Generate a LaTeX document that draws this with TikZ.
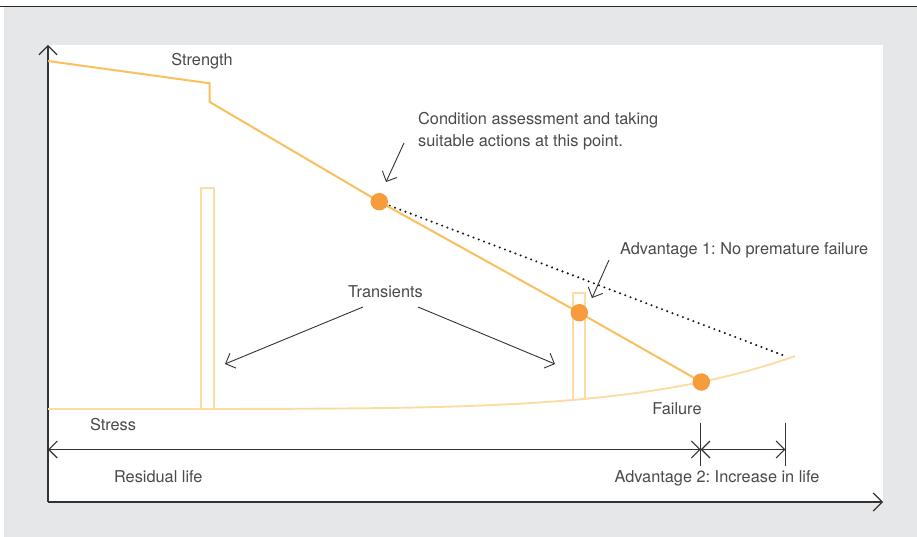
\documentclass[tikz,border=0pt]{standalone}
\usepackage{fontspec}
\setmainfont{TeX Gyre Heros}
\usetikzlibrary{arrows.meta}
\frenchspacing
\definecolor{bggrey}{HTML}{E6E7E8}
\definecolor{strengthc}{HTML}{FABF5E}
\definecolor{lightc}{HTML}{FDDBA4}
\definecolor{dotc}{HTML}{F69C3D}
\definecolor{textc}{HTML}{4A4A4A}
\definecolor{axisc}{HTML}{333333}
\tikzset{
  lbl/.style={inner sep=0pt, text=textc, font=\fontsize{16.3}{22}\selectfont},
  dotnode/.style={circle, fill=dotc, minimum size=17.5pt, inner sep=0pt},
  axisline/.style={draw=axisc, line width=1.2pt},
  annot/.style={draw=axisc, line width=0.9pt, -{Straight Barb[length=8pt, width=16pt]}},
  strengthline/.style={draw=strengthc, line width=2pt, line join=miter},
  lightline/.style={draw=lightc, line width=1.9pt},
  dotted line/.style={draw=black!90, line width=2.3pt, line cap=round, dash pattern=on 0pt off 5.6pt}
}
\begin{document}
\begin{tikzpicture}[x=1pt,y=-1pt]
\useasboundingbox (0,0) rectangle (917,537);
% background panels
\fill[bggrey] (4,7) rectangle (917,537);
\fill[white] (48,45) rectangle (883,502);
\draw[black!85, line width=1.3pt] (0,6.5) -- (917,6.5);

% coordinates
\coordinate (origin) at (48,502);
\coordinate (ytip) at (48,45);
\coordinate (xtip) at (883,502);
\coordinate (s0) at (48,61);
\coordinate (s1) at (209.7,83.3);
\coordinate (s2) at (209.7,102);
\coordinate (p1) at (379.3,201.7);
\coordinate (p2) at (579.3,312.7);
\coordinate (p3) at (701.3,382);
\coordinate (dotend) at (785,356);

% axes
\draw[axisline, -{Straight Barb[length=9pt, width=18pt]}] (origin) -- (ytip);
\draw[axisline, -{Straight Barb[length=9pt, width=18pt]}] (origin) -- (xtip);

% stress curve
\draw[lightline] plot[domain=48:795, samples=80, smooth] (\x, {409-27*((\x-48)/653)^5});

% transients
\draw[lightline] (200.7,409) -- (200.7,188) -- (213.7,188) -- (213.7,409);
\draw[lightline] (573,400) -- (573,293) -- (585,293) -- (585,399.5);

% dotted extension
\draw[dotted line] (p1) -- (dotend);

% strength line
\draw[strengthline] (s0) -- (s1) -- (s2) -- (p1) -- (p2) -- (p3);

% dots
\node[dotnode] (d1) at (p1) {};
\node[dotnode] (d2) at (p2) {};
\node[dotnode] (d3) at (p3) {};

% labels
\node[lbl, anchor=base] (strength) at (202,65.5) {Strength};
\node[lbl, anchor=west, align=left] (cond) at (418,131) {Condition assessment and taking\\suitable actions at this point.};
\node[lbl, anchor=base west] (adv1) at (620,254) {Advantage 1: No premature failure};
\node[lbl, anchor=base] (trans) at (385.5,297.3) {Transients};
\node[lbl, anchor=base] (stress) at (113,430) {Stress};
\node[lbl, anchor=base] (failure) at (677,414.3) {Failure};
\node[lbl, anchor=base] (resid) at (158.3,482.7) {Residual life};
\node[lbl, anchor=base] (adv2) at (717,482.7) {Advantage 2: Increase in life};

% annotation arrows
\coordinate (c1a) at (404,143);
\coordinate (c1b) at (386,182);
\draw[annot] (c1a) -- (c1b);
\coordinate (a1a) at (609,260);
\coordinate (a1b) at (592,298);
\draw[annot] (a1a) -- (a1b);
\coordinate (t1a) at (363,307);
\coordinate (t1b) at (225,364);
\coordinate (t2a) at (418,307);
\coordinate (t2b) at (555,364);
\draw[annot] (t1a) -- (t1b);
\draw[annot] (t2a) -- (t2b);

% dimension lines
\coordinate (dimL) at (48,449.5);
\coordinate (dimM) at (700.7,449.5);
\coordinate (dimR) at (785.3,449.5);
\draw[axisc, line width=1.1pt] (700.7,422.7) -- (700.7,466);
\draw[axisc, line width=1.1pt] (785.3,422.7) -- (785.3,466);
\draw[axisc, line width=1.1pt, {Straight Barb[length=8.5pt, width=17pt]}-{Straight Barb[length=8.5pt, width=17pt]}] (dimL) -- (dimM);
\draw[axisc, line width=1.1pt, {Straight Barb[length=8.5pt, width=17pt]}-{Straight Barb[length=8.5pt, width=17pt]}] (dimM) -- (dimR);
\end{tikzpicture}
\end{document}
